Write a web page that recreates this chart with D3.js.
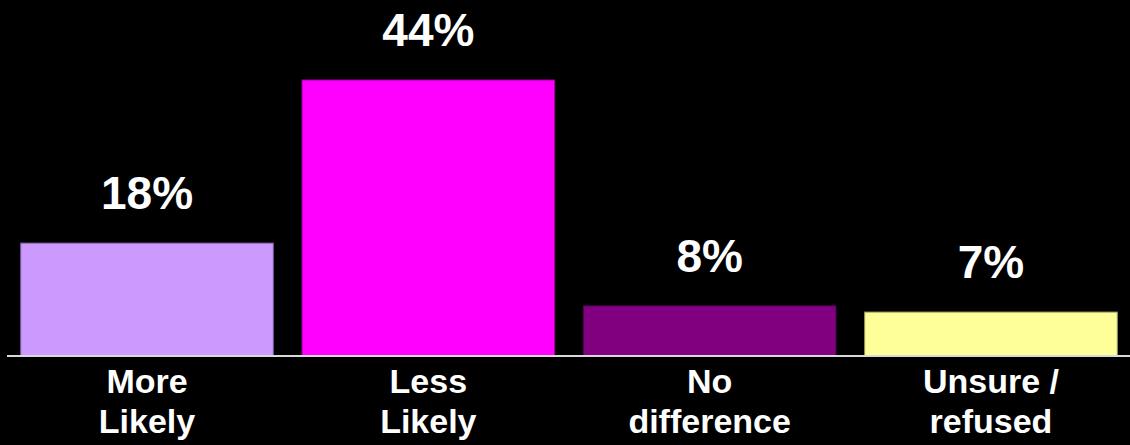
<!DOCTYPE html>
<html>
<head>
<meta charset="utf-8">
<script src="https://cdn.jsdelivr.net/npm/d3@7"></script>
<style>
  html, body { margin: 0; padding: 0; background: #000; }
  svg { display: block; }
  text { font-family: "Liberation Sans", Arial, sans-serif; font-weight: bold; fill: #fff; }
</style>
</head>
<body>
<svg id="chart" width="1130" height="445"></svg>
<script>
const categories = [["More", "Likely"], ["Less", "Likely"], ["No", "difference"], ["Unsure /", "refused"]];
const values = [18, 44, 8, 7];
const valueLabels = ["18%", "44%", "8%", "7%"];
const colors = ["#CC99FF", "#FF00FF", "#800080", "#FFFF99"];

const svg = d3.select("#chart");
const keys = categories.map(c => c.join(" "));

const x = d3.scaleBand().domain(keys).range([20.7, 1117.3]).paddingInner(0.102).paddingOuter(0);
const y = d3.scaleLinear().domain([0, 44]).range([356, 80]);

svg.selectAll("rect.bar").data(values).join("rect")
  .attr("class", "bar")
  .attr("x", (d, i) => x(keys[i]))
  .attr("width", x.bandwidth())
  .attr("y", d => y(d))
  .attr("height", d => y(0) - y(d))
  .attr("fill", (d, i) => colors[i])
  .attr("stroke", (d, i) => d3.color(colors[i]).darker(1.4))
  .attr("stroke-width", 1);

// baseline axis
svg.append("line")
  .attr("x1", 7).attr("x2", 1130)
  .attr("y1", y(0)).attr("y2", y(0))
  .attr("stroke", "#d9d9d9").attr("stroke-width", 2);

// value labels
svg.selectAll("text.val").data(values).join("text")
  .attr("class", "val")
  .attr("x", (d, i) => x(keys[i]) + x.bandwidth() / 2)
  .attr("y", d => y(d) - 34)
  .attr("text-anchor", "middle")
  .style("font-size", "46px")
  .text((d, i) => valueLabels[i]);

// category labels
const cat = svg.selectAll("text.cat").data(categories).join("text")
  .attr("class", "cat")
  .attr("text-anchor", "middle")
  .style("font-size", "34px");
cat.selectAll("tspan").data((d, i) => d.map(line => ({ line, i }))).join("tspan")
  .attr("x", d => x(keys[d.i]) + x.bandwidth() / 2)
  .attr("y", (d, j) => 393 + j * 40)
  .text(d => d.line);
</script>
</body>
</html>
